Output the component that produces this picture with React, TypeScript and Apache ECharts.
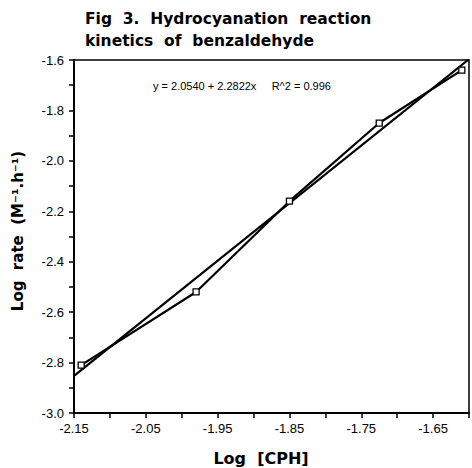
import React, { useEffect, useRef } from "react";
import * as echarts from "echarts";

// Observed data (Log [CPH], Log rate)
const logCPH = [-2.14, -1.98, -1.85, -1.725, -1.61];
const logRate = [-2.81, -2.52, -2.16, -1.85, -1.64];

const fitX = [-2.15, -1.6];
const fitY = [-2.853, -1.597];

const xTickLabels = ["-2.15", "-2.05", "-1.95", "-1.85", "-1.75", "-1.65"];
const yTickLabels = ["-3.0", "-2.8", "-2.6", "-2.4", "-2.2", "-2.0", "-1.8", "-1.6"];

const titleText = "Fig  3.  Hydrocyanation  reaction\nkinetics  of  benzaldehyde";
const equationText = "y = 2.0540 + 2.2822x     R^2 = 0.996";
const yName = "Log  rate  (M\u207B\u00B9.h\u207B\u00B9)";
const xName = "Log  [CPH]";

export default function App() {
  const ref = useRef<HTMLDivElement>(null);
  useEffect(() => {
    if (!ref.current) return;
    const chart = echarts.init(ref.current, null, { renderer: "svg" });
    const dataPts = logCPH.map((x, i) => [x, logRate[i]]);
    const fitPts = fitX.map((x, i) => [x, fitY[i]]);
    const tickFont = { fontFamily: "Liberation Sans", fontSize: 13, color: "#000" };
    chart.setOption({
      animation: false,
      backgroundColor: "#fff",
      title: {
        text: titleText,
        left: 80,
        top: 3,
        textStyle: {
          fontFamily: "DejaVu Sans",
          fontWeight: "bold",
          fontSize: 15.5,
          lineHeight: 22,
          color: "#000",
        },
      },
      grid: {
        left: 74,
        right: 2,
        top: 60,
        bottom: 55,
        show: true,
        borderColor: "#000",
        borderWidth: 1.5,
        backgroundColor: "transparent",
      },
      xAxis: {
        type: "value",
        min: -2.15,
        max: -1.6,
        interval: 0.05,
        splitLine: { show: false },
        axisLine: { lineStyle: { color: "#000", width: 2 } },
        axisTick: { length: 5, lineStyle: { color: "#000", width: 1.5 } },
        axisLabel: {
          ...tickFont,
          margin: 9,
          formatter: (v: number) => {
            const s = v.toFixed(2);
            return xTickLabels.includes(s) ? s : "";
          },
        },
      },
      yAxis: {
        type: "value",
        min: -3.0,
        max: -1.6,
        interval: 0.1,
        splitLine: { show: false },
        axisLine: { lineStyle: { color: "#000", width: 2 } },
        axisTick: { length: 5, lineStyle: { color: "#000", width: 1.5 } },
        axisLabel: {
          ...tickFont,
          margin: 10,
          formatter: (v: number) => {
            const s = v.toFixed(1);
            return yTickLabels.includes(s) ? s : "";
          },
        },
      },
      graphic: [
        {
          type: "text",
          x: 153,
          y: 86,
          style: {
            text: equationText,
            fontFamily: "Liberation Sans",
            fontSize: 11,
            fill: "#000",
            textVerticalAlign: "middle",
          },
        },
        {
          type: "text",
          x: 18,
          y: 231,
          rotation: Math.PI / 2,
          style: {
            text: yName,
            fontFamily: "DejaVu Sans",
            fontWeight: "bold",
            fontSize: 15,
            fill: "#000",
            textAlign: "center",
            textVerticalAlign: "middle",
          },
        },
        {
          type: "text",
          x: 261,
          y: 458,
          style: {
            text: xName,
            fontFamily: "DejaVu Sans",
            fontWeight: "bold",
            fontSize: 16,
            fill: "#000",
            textAlign: "center",
            textVerticalAlign: "middle",
          },
        },
      ],
      series: [
        {
          type: "line",
          data: fitPts,
          symbol: "none",
          lineStyle: { color: "#000", width: 2.2 },
          z: 2,
        },
        {
          type: "line",
          data: dataPts,
          symbol: "rect",
          symbolSize: 6,
          itemStyle: { color: "#fff", borderColor: "#000", borderWidth: 1.3 },
          lineStyle: { color: "#000", width: 2.2 },
          z: 3,
        },
      ],
    });
    return () => chart.dispose();
  }, []);
  return (
    <div
      ref={ref}
      style={{ position: "fixed", left: 0, top: 0, width: 472, height: 468 }}
    />
  );
}
